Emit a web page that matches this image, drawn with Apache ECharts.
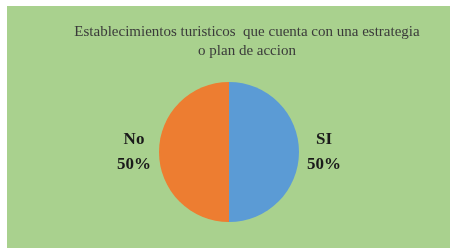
<!DOCTYPE html>
<html>
<head>
<meta charset="utf-8">
<script src="https://cdn.jsdelivr.net/npm/echarts@6/dist/echarts.min.js"></script>
<style>
  html, body { margin: 0; padding: 0; background: #ffffff; }
  #chart { position: absolute; left: 7px; top: 6px; width: 443px; height: 242px; background: #a9d18e; }
</style>
</head>
<body>
<div id="chart"></div>
<script>
// datos
const categorias = ['SI', 'No']
const valores = [50, 50]
const colores = ['#5b9bd5', '#ed7d31']
const titulo = 'Establecimientos turisticos  que cuenta con una estrategia\no plan de accion'

const chart = echarts.init(document.getElementById('chart'))

chart.setOption({
  animation: false,
  title: {
    text: titulo,
    left: 235,
    top: 12,
    textAlign: 'center',
    textStyle: {
      fontFamily: 'Liberation Serif',
      fontSize: 15,
      fontWeight: 'normal',
      color: '#3a3a3a',
      lineHeight: 19
    }
  },
  series: [
    {
      type: 'pie',
      center: [222, 146],
      radius: 70,
      startAngle: 90,
      clockwise: true,
      data: categorias.map((c, i) => ({
        name: c,
        value: valores[i],
        itemStyle: { color: colores[i] }
      })),
      label: {
        show: true,
        position: 'outside',
        formatter: '{t|{b}}\n{t|{d}%}',
        rich: {
          t: {
            fontFamily: 'Liberation Serif',
            fontSize: 17,
            fontWeight: 'bold',
            color: '#1a1a1a',
            width: 40,
            align: 'center',
            lineHeight: 25
          }
        }
      },
      labelLine: { show: false, length: 0, length2: 0 }
    }
  ]
})
</script>
</body>
</html>
